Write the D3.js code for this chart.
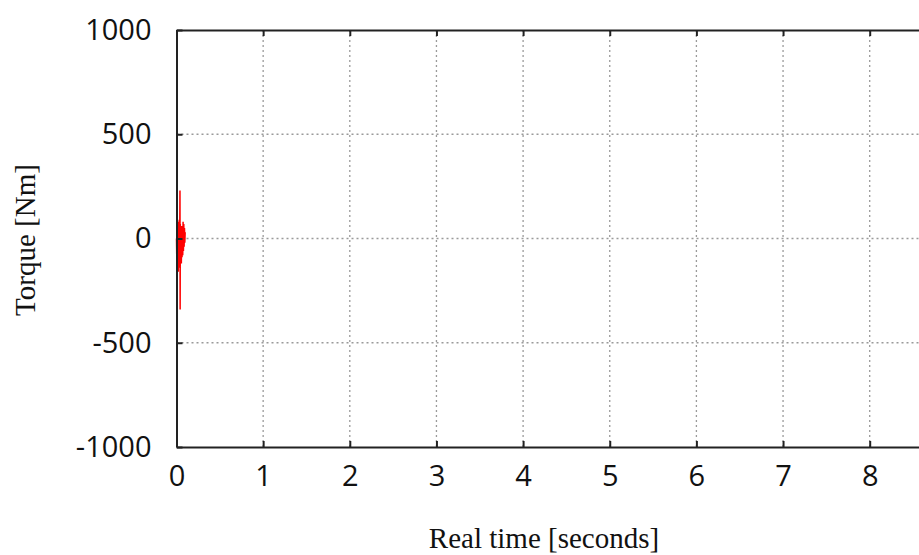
<!DOCTYPE html>
<html>
<head>
<meta charset="utf-8">
<style>
  body { margin: 0; background: #fff; }
  svg { display: block; }
</style>
</head>
<body>
<svg class="torque-chart" width="919" height="555"></svg>
<script src="https://d3js.org/d3.v7.min.js"></script>
<script>
  // torque samples (time in s, torque in Nm)
  const timeS = [0.000, 0.004, 0.008, 0.012, 0.016, 0.020, 0.024, 0.028, 0.032, 0.036,
                 0.040, 0.042, 0.044, 0.048, 0.052, 0.056, 0.060, 0.064, 0.068, 0.072,
                 0.076, 0.080, 0.084, 0.088, 0.092, 0.096, 0.100];
  const torqueNm = [0, -120, 60, -150, 80, -160, 40, -140, 90, -130,
                    230, -340, 70, -110, 50, -120, 60, -90, 40, -80,
                    80, -60, 70, -40, 50, -20, 30];

  const xTicks = [0, 1, 2, 3, 4, 5, 6, 7, 8];
  const yTicks = [-1000, -500, 0, 500, 1000];

  const svg = d3.select("svg.torque-chart");
  const plotLeft = 176.5, plotTop = 30, plotBottom = 447;

  // x runs to 10 s, the picture is cropped near 8.6 s
  const x = d3.scaleLinear().domain([0, 10]).range([plotLeft, plotLeft + 866.5]);
  const y = d3.scaleLinear().domain([-1000, 1000]).range([plotBottom, plotTop]);
  const plotRight = x(10);

  // grid
  const grid = svg.append("g")
    .attr("stroke", "#9a9a9a")
    .attr("stroke-width", 1.3)
    .attr("stroke-dasharray", "2,3");

  grid.selectAll("line.gx")
    .data(xTicks.filter(d => d > 0))
    .join("line")
    .attr("class", "gx")
    .attr("x1", d => x(d)).attr("x2", d => x(d))
    .attr("y1", plotTop).attr("y2", plotBottom);

  grid.selectAll("line.gy")
    .data(yTicks.filter(d => d > -1000 && d < 1000))
    .join("line")
    .attr("class", "gy")
    .attr("x1", plotLeft).attr("x2", plotRight)
    .attr("y1", d => y(d)).attr("y2", d => y(d));

  // signal
  const line = d3.line()
    .x((d, i) => x(timeS[i]))
    .y(d => y(d));

  svg.append("path")
    .datum(torqueNm)
    .attr("fill", "none")
    .attr("stroke", "#ff0000")
    .attr("stroke-width", 1.5)
    .attr("d", line);

  // axes, ticks inward and mirrored
  const fmt = d => String(d);
  const xAxisB = d3.axisBottom(x).tickValues(xTicks).tickFormat(fmt).tickSizeInner(-6).tickSizeOuter(0).tickPadding(18);
  const xAxisT = d3.axisTop(x).tickValues(xTicks).tickSizeInner(-6).tickSizeOuter(0).tickFormat("");
  const yAxisL = d3.axisLeft(y).tickValues(yTicks).tickFormat(fmt).tickSizeInner(-6).tickSizeOuter(0).tickPadding(25);
  const yAxisR = d3.axisRight(y).tickValues(yTicks).tickSizeInner(-6).tickSizeOuter(0).tickFormat("");

  function style(g) {
    g.select(".domain").attr("stroke", "#222").attr("stroke-width", 2);
    g.selectAll(".tick line").attr("stroke", "#222").attr("stroke-width", 2);
    g.selectAll(".tick text")
      .attr("fill", "#111")
      .style("font-family", "'Open Sans', sans-serif")
      .style("font-size", "29px");
  }

  svg.append("g").attr("transform", `translate(0,${plotBottom})`).call(xAxisB).call(style);
  svg.append("g").attr("transform", `translate(0,${plotTop})`).call(xAxisT).call(style);
  svg.append("g").attr("transform", `translate(${plotLeft},0)`).call(yAxisL).call(style);
  svg.append("g").attr("transform", `translate(${plotRight},0)`).call(yAxisR).call(style);

  // titles
  svg.append("text")
    .attr("x", 544).attr("y", 548)
    .attr("text-anchor", "middle")
    .style("font-family", "'Liberation Serif', serif")
    .style("font-size", "29px")
    .attr("fill", "#111")
    .text("Real time [seconds]");

  svg.append("text")
    .attr("transform", "translate(35,240) rotate(-90)")
    .attr("text-anchor", "middle")
    .style("font-family", "'Liberation Serif', serif")
    .style("font-size", "29px")
    .attr("fill", "#111")
    .text("Torque [Nm]");
</script>
</body>
</html>
